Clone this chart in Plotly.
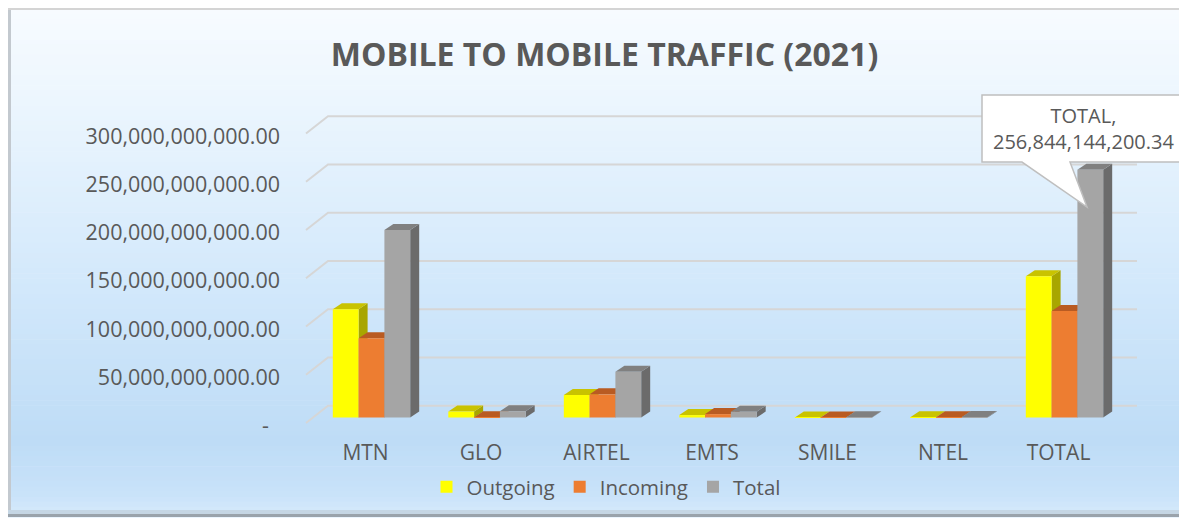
import plotly.graph_objects as go

# ---------------- data ----------------
categories = ["MTN", "GLO", "AIRTEL", "EMTS", "SMILE", "NTEL", "TOTAL"]
outgoing = [112.1e9, 6.2e9, 23.3e9, 2.5e9, 0.1e9, 0.2e9, 146.5e9]
incoming = [82.1e9, 0.3e9, 24.0e9, 3.5e9, 0.1e9, 0.2e9, 110.34e9]
total = [194.2e9, 6.5e9, 47.3e9, 6.0e9, 0.2e9, 0.4e9, 256844144200.34]
series_names = ["Outgoing", "Incoming", "Total"]
tick_values = [0, 50e9, 100e9, 150e9, 200e9, 250e9, 300e9]
title_text = "MOBILE TO MOBILE TRAFFIC (2021)"

# ---------------- styles ----------------
front_colors = ["#FFFF00", "#ED7D31", "#A5A5A5"]
top_colors = ["#C9C300", "#B95B22", "#808080"]
side_colors = ["#A8A600", "#9A4A18", "#6B6B6B"]
TEXT = "#595959"
FONT = "Open Sans"

OFF = 8                      # page body margin offset (screen px -> figure px)
W, H = 1187 - OFF, 519 - OFF


def S(p):
    """screen pixel -> figure pixel"""
    return p - OFF


X_PX0, X_PPU = S(371.5), 115.5       # pixel of x=0, pixels per category
Y_PX0, Y_PPU = S(417.5), 0.965e-9    # pixel of y=0, pixels per unit
BARGAP = 0.33
DEPTH_X, DEPTH_Y = 9, 6               # 3D depth offset in pixels

x_range = [(0 - X_PX0) / X_PPU, (W - X_PX0) / X_PPU]
y_range = [-(H - Y_PX0) / Y_PPU, Y_PX0 / Y_PPU]


def px_x(px):
    return (S(px) - X_PX0) / X_PPU


def dx(p):
    return p / X_PPU


def dy(p):
    return p / Y_PPU


def pfx(px):
    return S(px) / W


def pfy(py):
    return 1 - S(py) / H


shapes = []

# background gradient (paper) inside chart frame
stops = [(0.0, (247, 251, 255)), (0.15, (238, 247, 254)), (0.55, (210, 232, 251)),
         (0.85, (190, 220, 246)), (0.95, (200, 226, 249)), (1.0, (214, 234, 251))]


def grad(t):
    for (a, ca), (b, cb) in zip(stops[:-1], stops[1:]):
        if a <= t <= b:
            f = (t - a) / (b - a)
            return tuple(int(round(ca[j] + (cb[j] - ca[j]) * f)) for j in range(3))
    return stops[-1][1]


top_px, bot_px, left_px, right_px = 9, 517, 8, 1186
n = 100
for s in range(n):
    y0 = top_px + (bot_px - top_px) * s / n
    y1 = top_px + (bot_px - top_px) * (s + 1) / n + 0.6
    c = grad((s + 0.5) / n)
    shapes.append(dict(type="rect", xref="paper", yref="paper", layer="below",
                       x0=pfx(left_px), x1=pfx(right_px), y0=pfy(y1), y1=pfy(y0),
                       fillcolor="rgb(%d,%d,%d)" % c, line_width=0))
# frame & shadows
shapes.append(dict(type="rect", xref="paper", yref="paper", layer="below",
                   x0=pfx(left_px), x1=pfx(left_px + 3), y0=pfy(bot_px), y1=pfy(top_px),
                   fillcolor="#c3c9cf", line_width=0))
shapes.append(dict(type="rect", xref="paper", yref="paper", layer="below",
                   x0=pfx(left_px), x1=pfx(right_px), y0=pfy(bot_px), y1=pfy(bot_px - 3),
                   fillcolor="#9aa3ab", line_width=0))
shapes.append(dict(type="rect", xref="paper", yref="paper", layer="below",
                   x0=pfx(left_px), x1=pfx(right_px), y0=pfy(bot_px - 3), y1=pfy(bot_px - 7),
                   fillcolor="#c5d6e4", line_width=0))
shapes.append(dict(type="line", xref="paper", yref="paper", layer="below",
                   x0=pfx(left_px), x1=pfx(right_px), y0=pfy(top_px), y1=pfy(top_px),
                   line=dict(color="#d4d4d4", width=2)))

# back-wall gridlines with 3D diagonal
for t in tick_values:
    yf = t - dy(5.5)
    yb = t + dy(11.8)
    shapes.append(dict(type="path", xref="x", yref="y", layer="below",
                       path="M %f,%f L %f,%f L %f,%f" % (px_x(306), yf, px_x(328), yb, px_x(1137), yb),
                       line=dict(color="#d6d6d6", width=2)))

# 3D top/side faces derived from the bar values
series = [outgoing, incoming, total]
wb = (1 - BARGAP) / 3
DX, DY = dx(DEPTH_X), dy(DEPTH_Y)
for k, vals in enumerate(series):
    for i, v in enumerate(vals):
        left = i + (k - 1) * wb - wb / 2
        right = left + wb
        shapes.append(dict(type="path", xref="x", yref="y", layer="below",
                           path="M %f,0 L %f,%f L %f,%f L %f,%f Z" % (
                               right, right, v, right + DX, v + DY, right + DX, DY),
                           fillcolor=side_colors[k], line_width=0))
        shapes.append(dict(type="path", xref="x", yref="y", layer="below",
                           path="M %f,%f L %f,%f L %f,%f L %f,%f Z" % (
                               left, v, right, v, right + DX, v + DY, left + DX, v + DY),
                           fillcolor=top_colors[k], line_width=0))

# callout for the TOTAL / Total bar
ci = len(categories) - 1
cv = total[ci]
shapes.append(dict(type="path", xref="x", yref="y", layer="above",
                   xsizemode="pixel", ysizemode="pixel", xanchor=ci, yanchor=cv,
                   path="M -82.5,74.6 L 130,74.6 L 130,7.6 L 5.5,7.6 L 22.5,-37.4 L -42.5,7.6 L -82.5,7.6 Z",
                   fillcolor="white", line=dict(color="#bfbfbf", width=1.5)))

fig = go.Figure()
for k, vals in enumerate(series):
    fig.add_trace(go.Bar(x=list(range(len(categories))), y=vals, name=series_names[k],
                         marker=dict(color=front_colors[k], line_width=0)))

annotations = [dict(x=ci, y=cv, xref="x", yref="y", xshift=19, yshift=41.6,
                    text="%s,<br>%s" % (categories[ci], f"{cv:,.2f}"), showarrow=False,
                    font=dict(family=FONT, size=20, color=TEXT), align="center")]

tick_text = ["-\u00a0\u00a0" if t == 0 else f"{t:,.2f}" for t in tick_values]

fig.update_layout(
    width=W, height=H,
    margin=dict(l=0, r=0, t=0, b=0),
    paper_bgcolor="white", plot_bgcolor="rgba(0,0,0,0)",
    barmode="group", bargap=BARGAP, bargroupgap=0,
    title=dict(text=title_text, x=pfx(604.5), xanchor="center", y=pfy(55), yanchor="middle",
               font=dict(family=FONT, size=32, color=TEXT, weight=700)),
    xaxis=dict(range=x_range, tickmode="array", tickvals=list(range(len(categories))),
               ticktext=categories, showgrid=False, zeroline=False, showline=False,
               ticks="", anchor="free", position=pfy(437.5), ticklabelshift=-6,
               tickfont=dict(family=FONT, size=21, color=TEXT), automargin=False),
    yaxis=dict(range=y_range, tickmode="array", tickvals=tick_values, ticktext=tick_text,
               showgrid=False, zeroline=False, showline=False, ticks="",
               anchor="free", position=pfx(280), ticklabelshift=8,
               tickfont=dict(family=FONT, size=21.5, color=TEXT), automargin=False),
    legend=dict(orientation="h", x=pfx(606), xanchor="center", y=pfy(487), yanchor="middle",
                font=dict(family=FONT, size=20.5, color=TEXT), bgcolor="rgba(0,0,0,0)",
                itemwidth=30, traceorder="normal"),
    shapes=shapes,
    annotations=annotations,
    showlegend=True,
)

fig.write_html("out.html")
